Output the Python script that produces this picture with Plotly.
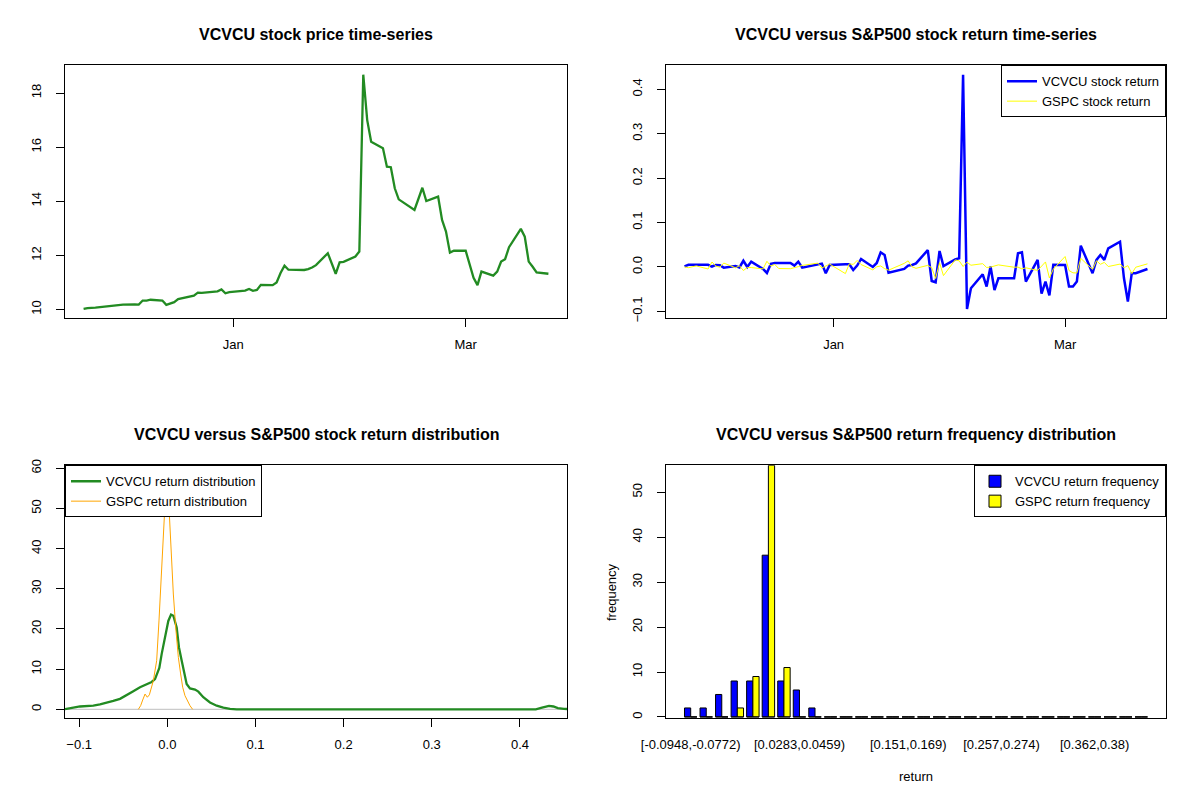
import pandas as pd
import plotly.graph_objects as go

# trading days shown in the two time-series panels
holidays = ["2020-11-26", "2020-12-25", "2021-01-01", "2021-01-18", "2021-02-15"]
dates = pd.bdate_range("2020-11-24", "2021-03-22", freq="C", holidays=holidays)

vcvcu_price = [10.02, 10.05, 10.07, 10.12, 10.13, 10.16, 10.19, 10.18, 10.19, 10.18,
               10.33, 10.33, 10.36, 10.33, 10.17, 10.22, 10.27, 10.38, 10.48, 10.51,
               10.62, 10.61, 10.67, 10.74, 10.60, 10.64, 10.70, 10.76, 10.69, 10.72,
               10.91, 10.90, 11.00, 11.35, 11.62, 11.47, 11.46, 11.49, 11.55, 11.64,
               12.08, 11.70, 11.32, 11.74, 11.76, 11.96, 12.14, 18.68, 17.00, 16.20,
               15.96, 15.28, 15.26, 14.48, 14.07, 13.68, 14.12, 14.50, 14.01, 14.17,
               13.31, 12.88, 12.10, 12.17, 12.17, 11.62, 11.17, 10.90, 11.40, 11.25,
               11.40, 11.77, 11.86, 12.30, 12.98, 12.69, 11.77, 11.58, 11.37, 11.32]

vcvcu_ret = [0.0015, 0.005, 0.005, 0.005, 0.001, 0.0045, 0.004, -0.0015, 0.002, -0.001,
             0.014, 0.0, 0.012, -0.0045, -0.0135, 0.007, 0.009, 0.009, 0.009, 0.003,
             0.012, -0.0015, 0.006, 0.0075, -0.014, 0.0045, 0.006, 0.006, -0.007, 0.003,
             0.018, 0.0, 0.009, 0.033, 0.027, -0.013, -0.0045, 0.003, 0.0045, 0.008,
             0.038, -0.0315, -0.0345, 0.036, 0.002, 0.017, 0.0195, 0.433, -0.0945, -0.048,
             -0.0165, -0.044, 0.001, -0.052, -0.0255, -0.0255, 0.031, 0.033, -0.033, 0.016,
             -0.060, -0.033, -0.064, 0.005, 0.0045, -0.044, -0.044, -0.033, 0.048, -0.014,
             0.016, 0.027, 0.016, 0.042, 0.057, -0.025, -0.078, -0.014, -0.014, -0.0045]

gspc_ret = [0.0, -0.0016, 0.0024, -0.0046, 0.0112, 0.0018, -0.0006, 0.0088, -0.0019, 0.0028,
            -0.0080, -0.0013, -0.0013, -0.0044, 0.0128, 0.0018, 0.0057, -0.0035, -0.0039, -0.0021,
            0.0007, 0.0035, 0.0087, -0.0022, 0.0013, 0.0064, -0.0149, 0.0071, 0.0057, 0.0147,
            0.0055, -0.0066, 0.0004, 0.0023, -0.0038, -0.0072, 0.0081, 0.0138, 0.0003, -0.0030,
            0.0036, -0.0015, -0.0260, 0.0097, -0.0195, 0.0159, 0.0138, 0.0010, 0.0108, 0.0039,
            0.0074, -0.0011, -0.0003, 0.0017, 0.0047, -0.0006, -0.0003, -0.0044, -0.0019, -0.0078,
            0.0013, 0.0113, -0.0248, -0.0048, 0.0235, -0.0081, -0.0132, -0.0135, 0.0193, -0.0054,
            0.0140, 0.0060, 0.0103, 0.0010, 0.0065, -0.0016, 0.0029, -0.0149, -0.0006, 0.0070]

# kernel density curves
vcvcu_dens_x = [-0.1161, -0.1142, -0.1067, -0.0991, -0.0915, -0.0840, -0.0764, -0.0688, -0.0613,
                -0.0537, -0.0461, -0.0386, -0.0310, -0.0234, -0.0178, -0.0140, -0.0113, -0.0091,
                -0.0064, -0.0026, 0.0011, 0.0042, 0.0068, 0.0106, 0.0132, 0.0163, 0.0189, 0.0219,
                0.0257, 0.0314, 0.0352, 0.0408, 0.0484, 0.0560, 0.0635, 0.0711, 0.0787, 0.418,
                0.425, 0.433, 0.438, 0.443, 0.450, 0.4534]
vcvcu_dens_y = [0.05, 0.1, 0.4, 0.7, 0.8, 0.9, 1.2, 1.6, 2.1, 2.6, 3.5, 4.5, 5.5, 6.2, 6.8, 7.5,
                8.8, 10.3, 13.8, 18.3, 22.0, 23.6, 23.3, 20.4, 15.4, 12.1, 9.2, 6.3, 5.2, 4.9,
                4.4, 3.0, 1.7, 0.9, 0.4, 0.1, 0.0, 0.0, 0.4, 0.85, 0.7, 0.3, 0.1, 0.08]

gspc_dens_x = [-0.0329, -0.0303, -0.0280, -0.0253, -0.0227, -0.0204, -0.0159, -0.0121, -0.0095,
               -0.0068, -0.0045, -0.0030, -0.0015, -0.0002, 0.0010, 0.0023, 0.0042, 0.0068,
               0.0098, 0.0125, 0.0151, 0.0174, 0.0200, 0.0227, 0.0257, 0.0287]
gspc_dens_y = [0.0, 0.9, 2.3, 3.8, 3.0, 3.6, 7.1, 12.1, 22.0, 34.5, 45.2, 50.5, 56.0, 58.4, 55.0,
               48.5, 40.3, 28.7, 19.6, 12.9, 8.8, 5.5, 3.4, 2.2, 0.9, 0.0]

# return frequency table, 30 equal-width bins
bin_no = list(range(1, 31))
vcvcu_freq = [2, 2, 5, 8, 8, 36, 8, 6, 2, 0, 0, 0, 0, 0, 0,
              0, 0, 0, 0, 0, 0, 0, 0, 0, 0, 0, 0, 0, 0, 0]
gspc_freq = [0, 0, 0, 2, 9, 56, 11, 0, 0, 0, 0, 0, 0, 0, 0,
             0, 0, 0, 0, 0, 0, 0, 0, 0, 0, 0, 0, 0, 0, 0]
bin_tick_no = [1, 8, 15, 21, 27]
bin_tick_text = ["[-0.0948,-0.0772)", "[0.0283,0.0459)", "[0.151,0.169)",
                 "[0.257,0.274)", "[0.362,0.38)"]

# the page body adds an 8px margin, so the figure is 16px smaller than the window
OFF = 8
W, H = 1200 - 2 * OFF, 800 - 2 * OFF
FONT = "Liberation Sans, Arial, sans-serif"


def fx(px):
    return (px - OFF) / W


def fy(py):
    return 1 - (py - OFF) / H


def ext(lo, hi, f=0.04):
    # R style 4% axis padding
    d = (hi - lo) * f
    return [lo - d, hi + d]


span = dates[-1] - dates[0]
date_range = [dates[0] - span * 0.04, dates[-1] + span * 0.04]

fig = go.Figure()

fig.add_trace(go.Scatter(x=dates, y=vcvcu_price, mode="lines", showlegend=False,
                         line=dict(color="forestgreen", width=2.3), xaxis="x", yaxis="y"))

fig.add_trace(go.Scatter(x=dates, y=vcvcu_ret, mode="lines", name="VCVCU stock return",
                         line=dict(color="blue", width=2.5), xaxis="x2", yaxis="y2", legend="legend"))
fig.add_trace(go.Scatter(x=dates, y=gspc_ret, mode="lines", name="GSPC stock return",
                         line=dict(color="yellow", width=1), xaxis="x2", yaxis="y2", legend="legend"))

fig.add_trace(go.Scatter(x=vcvcu_dens_x, y=vcvcu_dens_y, mode="lines", name="VCVCU return distribution",
                         line=dict(color="forestgreen", width=2.3), xaxis="x3", yaxis="y3", legend="legend2"))
fig.add_trace(go.Scatter(x=gspc_dens_x, y=gspc_dens_y, mode="lines", name="GSPC return distribution",
                         line=dict(color="orange", width=1), xaxis="x3", yaxis="y3", legend="legend2"))

fig.add_trace(go.Bar(x=bin_no, y=vcvcu_freq, name="VCVCU return frequency",
                     marker=dict(color="blue", line=dict(color="black", width=1)),
                     xaxis="x4", yaxis="y4", legend="legend3"))
fig.add_trace(go.Bar(x=bin_no, y=gspc_freq, name="GSPC return frequency",
                     marker=dict(color="yellow", line=dict(color="black", width=1)),
                     xaxis="x4", yaxis="y4", legend="legend3"))
# base edge of each bar pair (empty bins show as a dash)
edge_x, edge_y = [], []
for k in bin_no:
    edge_x += [k - 0.4, k + 0.4, None]
    edge_y += [0, 0, None]
fig.add_trace(go.Scatter(x=edge_x, y=edge_y, mode="lines", showlegend=False,
                         line=dict(color="black", width=1), xaxis="x4", yaxis="y4"))

col1 = [fx(65), fx(567)]
col2 = [fx(666), fx(1166)]
row1 = [fy(318.3), fy(65.3)]
row2 = [fy(718.3), fy(465.3)]

ax = dict(showline=True, linecolor="black", linewidth=1, mirror=True, ticks="outside",
          ticklen=8, tickcolor="black", showgrid=False, zeroline=False, automargin=False,
          tickfont=dict(size=13, color="black"))
xax = dict(ax, ticklabelstandoff=6)
yax = dict(ax, tickangle=-90, ticklabelstandoff=10)
leg = dict(bgcolor="white", bordercolor="black", borderwidth=1, font=dict(size=13))

fig.update_layout(
    width=W, height=H, margin=dict(l=0, r=0, t=0, b=0, autoexpand=False),
    paper_bgcolor="white", plot_bgcolor="white",
    font=dict(family=FONT, size=13, color="black"),
    barmode="group", bargap=0.2, bargroupgap=0,
    xaxis=dict(xax, domain=col1, anchor="y", type="date", range=date_range,
               tickvals=["2021-01-01", "2021-03-01"], ticktext=["Jan", "Mar"]),
    yaxis=dict(yax, domain=row1, anchor="x", range=ext(min(vcvcu_price), max(vcvcu_price)),
               dtick=2),
    xaxis2=dict(xax, domain=col2, anchor="y2", type="date", range=date_range,
                tickvals=["2021-01-01", "2021-03-01"], ticktext=["Jan", "Mar"]),
    yaxis2=dict(yax, domain=row1, anchor="x2",
                range=ext(min(vcvcu_ret + gspc_ret), max(vcvcu_ret + gspc_ret)),
                dtick=0.1, tickformat=".1f"),
    xaxis3=dict(xax, domain=col1, anchor="y3", range=[-0.1161, 0.4534], dtick=0.1,
                tickformat=".1f"),
    yaxis3=dict(yax, domain=row2, anchor="x3", range=[-2.24, 60.75], dtick=10),
    xaxis4=dict(xax, domain=col2, anchor="y4", range=[-0.59, 31.59], ticks="",
                ticklabelstandoff=14, tickvals=bin_tick_no, ticktext=bin_tick_text),
    yaxis4=dict(yax, domain=row2, anchor="x4", range=[-0.3, 56], dtick=10),
    legend=dict(leg, x=col2[1], y=row1[1], xanchor="right", yanchor="top"),
    legend2=dict(leg, x=col1[0], y=row2[1], xanchor="left", yanchor="top"),
    legend3=dict(leg, x=col2[1], y=row2[1], xanchor="right", yanchor="top"),
)

# zero line of the density plot
fig.add_shape(type="line", xref="x3 domain", yref="y3", x0=0, x1=1, y0=0, y1=0,
              line=dict(color="#BEBEBE", width=1), layer="below")

titles = ["VCVCU stock price time-series",
          "VCVCU versus S&P500 stock return time-series",
          "VCVCU versus S&P500 stock return distribution",
          "VCVCU versus S&P500 return frequency distribution"]
centers = [(sum(col1) / 2, fy(34)), (sum(col2) / 2, fy(34)),
           (sum(col1) / 2, fy(434)), (sum(col2) / 2, fy(434))]
for t, (cx, cy) in zip(titles, centers):
    fig.add_annotation(text="<b>" + t + "</b>", x=cx, y=cy, xref="paper", yref="paper",
                       showarrow=False, font=dict(size=16), xanchor="center", yanchor="middle")

fig.add_annotation(text="return", x=sum(col2) / 2, y=fy(776), xref="paper", yref="paper",
                   showarrow=False, font=dict(size=13), xanchor="center", yanchor="middle")
fig.add_annotation(text="frequency", x=fx(611), y=fy(592), xref="paper", yref="paper",
                   showarrow=False, font=dict(size=13), textangle=-90,
                   xanchor="center", yanchor="middle")

fig.write_html("out.html")
